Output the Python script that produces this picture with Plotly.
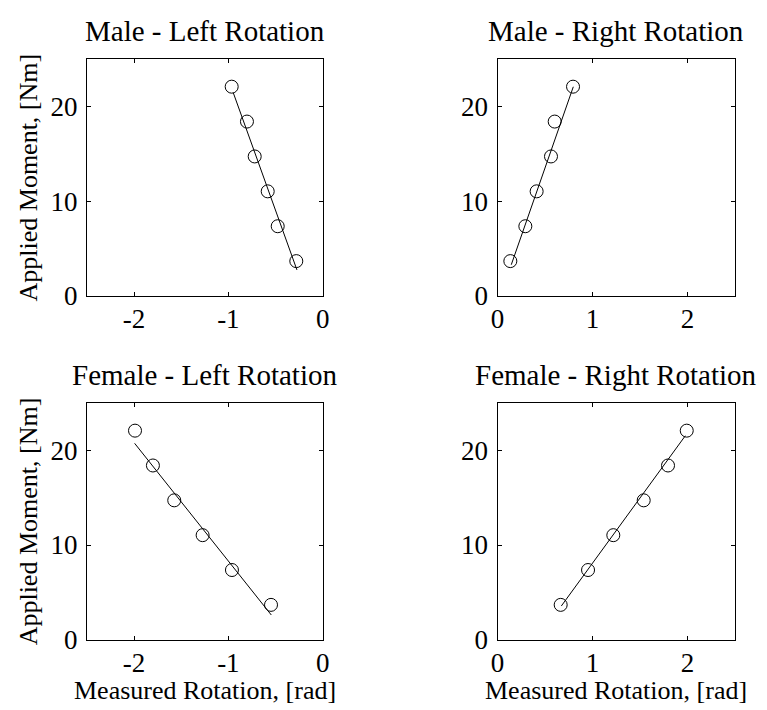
import plotly.graph_objects as go

# ---- data ----
moment = [22.08, 18.40, 14.72, 11.04, 7.36, 3.68]

male_left_rot = [-0.965, -0.803, -0.721, -0.583, -0.477, -0.280]
male_right_rot = [0.795, 0.602, 0.563, 0.412, 0.293, 0.135]
female_left_rot = [-1.990, -1.800, -1.574, -1.273, -0.962, -0.548]
female_right_rot = [1.992, 1.795, 1.539, 1.219, 0.953, 0.665]

male_left_fit_x = [-0.948, -0.273]
male_left_fit_y = [21.44, 2.75]
male_right_fit_x = [0.145, 0.798]
male_right_fit_y = [3.30, 22.07]
female_left_fit_x = [-1.994, -0.545]
female_left_fit_y = [20.74, 2.61]
female_right_fit_x = [0.672, 1.977]
female_right_fit_y = [3.56, 21.54]

titles = ["Male - Left Rotation", "Male - Right Rotation",
          "Female - Left Rotation", "Female - Right Rotation"]
y_label = "Applied Moment, [Nm]"
x_label = "Measured Rotation, [rad]"

left_range = [-2.5, 0]
right_range = [0, 2.5]
left_ticks = [-2, -1, 0]
left_ticktext = ["-2", "-1", "0"]
right_ticks = [0, 1, 2]
right_ticktext = ["0", "1", "2"]
y_range = [0, 25]
y_ticks = [0, 10, 20]
y_ticktext = ["0", "10", "20"]

W, H = 767, 710
OFF = 8  # page body margin
FONT = "Liberation Serif, Times New Roman, serif"
FS_TICK = 27
FS_LAB = 26
FS_TITLE = 29


def px_x(p):
    return (p - OFF) / W


def px_y(p):
    return 1 - (p - OFF) / H


panels = [
    (male_left_rot, male_left_fit_x, male_left_fit_y, left_range, left_ticks, left_ticktext),
    (male_right_rot, male_right_fit_x, male_right_fit_y, right_range, right_ticks, right_ticktext),
    (female_left_rot, female_left_fit_x, female_left_fit_y, left_range, left_ticks, left_ticktext),
    (female_right_rot, female_right_fit_x, female_right_fit_y, right_range, right_ticks, right_ticktext),
]

xdom_left = [px_x(86.9), px_x(322.7)]
xdom_right = [px_x(497.5), px_x(735.0)]
ydom_top = [px_y(296.0), px_y(59.0)]
ydom_bot = [px_y(639.7), px_y(403.0)]
doms = [(xdom_left, ydom_top), (xdom_right, ydom_top),
        (xdom_left, ydom_bot), (xdom_right, ydom_bot)]

fig = go.Figure()
layout = dict(
    width=W, height=H,
    margin=dict(l=0, r=0, t=0, b=0, autoexpand=False),
    paper_bgcolor="white", plot_bgcolor="white",
    showlegend=False,
    font=dict(family=FONT, size=FS_TICK, color="black"),
)

annotations = []
for i, (xs, fx, fy, xr, xt, xtt) in enumerate(panels):
    n = i + 1
    xa = "x" if n == 1 else f"x{n}"
    ya = "y" if n == 1 else f"y{n}"
    fig.add_trace(go.Scatter(x=fx, y=fy, mode="lines", xaxis=xa, yaxis=ya,
                             line=dict(color="black", width=1)))
    fig.add_trace(go.Scatter(x=xs, y=moment, mode="markers", xaxis=xa, yaxis=ya,
                             marker=dict(symbol="circle-open", size=13,
                                         color="black", line=dict(width=1, color="black"))))
    xd, yd = doms[i]
    axcommon = dict(showgrid=False, zeroline=False, showline=True, linecolor="black",
                    linewidth=1, mirror="ticks", ticks="inside", ticklen=4,
                    tickcolor="black", tickwidth=1, automargin=False,
                    tickfont=dict(family=FONT, size=FS_TICK, color="black"))
    layout["xaxis" if n == 1 else f"xaxis{n}"] = dict(
        domain=xd, range=xr, tickvals=xt, ticktext=xtt, anchor=ya,
        ticklabelstandoff=-1, **axcommon)
    layout["yaxis" if n == 1 else f"yaxis{n}"] = dict(
        domain=yd, range=y_range, tickvals=y_ticks, ticktext=y_ticktext, anchor=xa,
        ticklabelstandoff=3, **axcommon)
    xc = (xd[0] + xd[1]) / 2
    annotations.append(dict(text=titles[i], x=xc, y=yd[1] + 10.0 / H,
                            xref="paper", yref="paper", showarrow=False,
                            xanchor="center", yanchor="bottom",
                            font=dict(family=FONT, size=FS_TITLE, color="black")))
    if i % 2 == 0:
        annotations.append(dict(text=y_label, x=px_x(28.0), y=(yd[0] + yd[1]) / 2,
                                xref="paper", yref="paper", showarrow=False,
                                textangle=-90, xanchor="center", yanchor="middle",
                                font=dict(family=FONT, size=FS_LAB, color="black")))
    if i >= 2:
        annotations.append(dict(text=x_label, x=xc, y=px_y(690.0),
                                xref="paper", yref="paper", showarrow=False,
                                xanchor="center", yanchor="middle",
                                font=dict(family=FONT, size=FS_LAB, color="black")))

layout["annotations"] = annotations
fig.update_layout(**layout)
fig.write_html("out.html")
